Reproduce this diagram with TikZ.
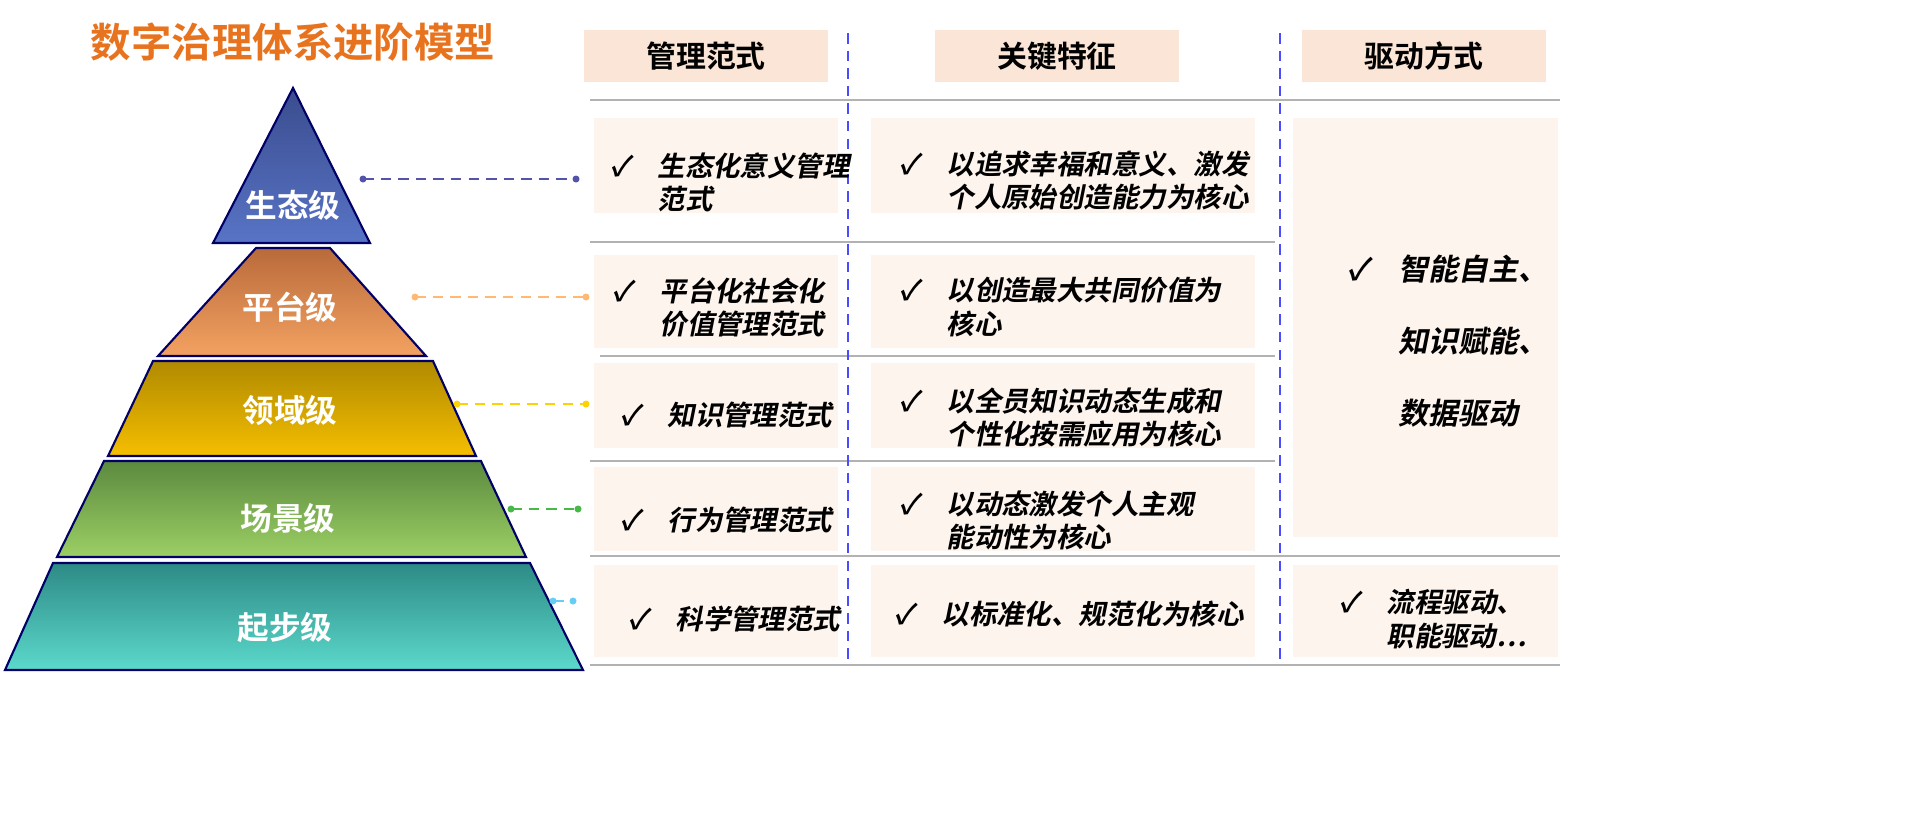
\documentclass[tikz,border=0pt]{standalone}
\usepackage{fontspec}
\setmainfont{Noto Sans CJK SC}[BoldFont={Noto Sans CJK SC Bold}]
\newfontfamily\itcjk{Noto Sans CJK SC Bold}[FakeSlant=0.2]
\usetikzlibrary{positioning}
\definecolor{hdr}{HTML}{FBE5D6}
\definecolor{cell}{HTML}{FDF4EE}
\definecolor{ttl}{HTML}{E8731E}
\tikzset{
  hbox/.style={fill=hdr,minimum width=2.43cm,minimum height=0.47cm,font=\bfseries\fontsize{8.5}{10}\selectfont},
  txt/.style={font=\itcjk\fontsize{7.8}{9.6}\selectfont,align=left,anchor=north west},
  lvl/.style={font=\bfseries\fontsize{9}{10}\selectfont,text=white},
  link/.style={densely dashed,line width=0.5pt},
  gl/.style={gray!60,line width=0.6pt},
  tier/.style={draw=blue!40!black,line width=0.6pt},
}
\begin{document}
\begin{tikzpicture}[x=0.01cm,y=-0.01cm]
\useasboundingbox (0,0) rectangle (1931,826);
% title
\node[font=\bfseries\fontsize{11.5}{12}\selectfont,text=ttl] (title) at (293,42) {数字治理体系进阶模型};
% pyramid
\shadedraw[tier,top color={rgb,255:red,58;green,76;blue,142},bottom color={rgb,255:red,88;green,116;blue,198}] (293,88) -- (370,243) -- (213,243) -- cycle;
\shadedraw[tier,top color={rgb,255:red,184;green,106;blue,58},bottom color={rgb,255:red,244;green,162;blue,98}] (256,248) -- (330,248) -- (426,356) -- (158,356) -- cycle;
\shadedraw[tier,top color={rgb,255:red,176;green,138;blue,0},bottom color={rgb,255:red,245;green,190;blue,0}] (153,361) -- (433,361) -- (476,456) -- (108,456) -- cycle;
\shadedraw[tier,top color={rgb,255:red,91;green,138;blue,62},bottom color={rgb,255:red,156;green,207;blue,101}] (104,461) -- (481,461) -- (526,557) -- (57,557) -- cycle;
\shadedraw[tier,top color={rgb,255:red,45;green,138;blue,133},bottom color={rgb,255:red,92;green,217;blue,204}] (53,563) -- (530,563) -- (583,670) -- (5,670) -- cycle;
\node[lvl] (l1) at (293,205) {生态级};
\node[lvl] (l2) at (290,307) {平台级};
\node[lvl] (l3) at (290,410) {领域级};
\node[lvl] (l4) at (288,518) {场景级};
\node[lvl] (l5) at (285,628) {起步级};
% connectors
\foreach \n/\y/\a/\b/\c in {c1/179/363/576/blue!35!gray,c2/297/415/586/orange!55,c3/404/457/586/yellow!70!orange,c4/509/511/578/green!45!gray,c5/601/553/573/cyan!60}{
  \coordinate (\n a) at (\a,\y); \coordinate (\n b) at (\b,\y);
  \draw[link,\c] (\n a) -- (\n b);
  \fill[\c] (\n a) circle (3.5) (\n b) circle (3.5);
}
% headers
\node[hbox] (h1) at (706,56) {管理范式};
\node[hbox] (h2) at (1057,56) {关键特征};
\node[hbox] (h3) at (1424,56) {驱动方式};
% rules
\draw[gl] (590,100) -- (1560,100);
\draw[gl] (590,242) -- (1275,242);
\draw[gl] (600,356) -- (1275,356);
\draw[gl] (590,461) -- (1275,461);
\draw[gl] (590,556) -- (1560,556);
\draw[gl] (590,665) -- (1560,665);
\draw[blue!70,densely dashed,line width=0.6pt] (848,33) -- (848,665);
\draw[blue!70,densely dashed,line width=0.6pt] (1280,33) -- (1280,665);
% cells
\foreach \y/\h in {118/95,255/93,363/85,467/84,565/92}{
  \fill[cell] (594,\y) rectangle (838,\y+\h);
  \fill[cell] (871,\y) rectangle (1255,\y+\h);
}
\fill[cell] (1293,118) rectangle (1558,537);
\fill[cell] (1293,565) rectangle (1558,657);
% column 1
\node[txt] (m1) at (598,140) {✓\quad 生态化意义管理\\\phantom{✓\quad }范式};
\node[txt] (m2) at (600,265) {✓\quad 平台化社会化\\\phantom{✓\quad }价值管理范式};
\node[txt] (m3) at (608,390) {✓\quad 知识管理范式};
\node[txt] (m4) at (608,495) {✓\quad 行为管理范式};
\node[txt] (m5) at (616,593) {✓\quad 科学管理范式};
% column 2
\node[txt] (k1) at (887,138) {✓\quad 以追求幸福和意义、激发\\\phantom{✓\quad }个人原始创造能力为核心};
\node[txt] (k2) at (887,265) {✓\quad 以创造最大共同价值为\\\phantom{✓\quad }核心};
\node[txt] (k3) at (887,375) {✓\quad 以全员知识动态生成和\\\phantom{✓\quad }个性化按需应用为核心};
\node[txt] (k4) at (887,478) {✓\quad 以动态激发个人主观\\\phantom{✓\quad }能动性为核心};
\node[txt] (k5) at (882,588) {✓\quad 以标准化、规范化为核心};
% column 3
\node[txt,font=\itcjk\fontsize{8.5}{20.5}\selectfont] (d1) at (1335,242) {✓\quad 智能自主、\\\phantom{✓\quad }知识赋能、\\\phantom{✓\quad }数据驱动};
\node[txt] (d2) at (1327,577) {✓\quad 流程驱动、\\\phantom{✓\quad }职能驱动…};
\end{tikzpicture}
\end{document}
